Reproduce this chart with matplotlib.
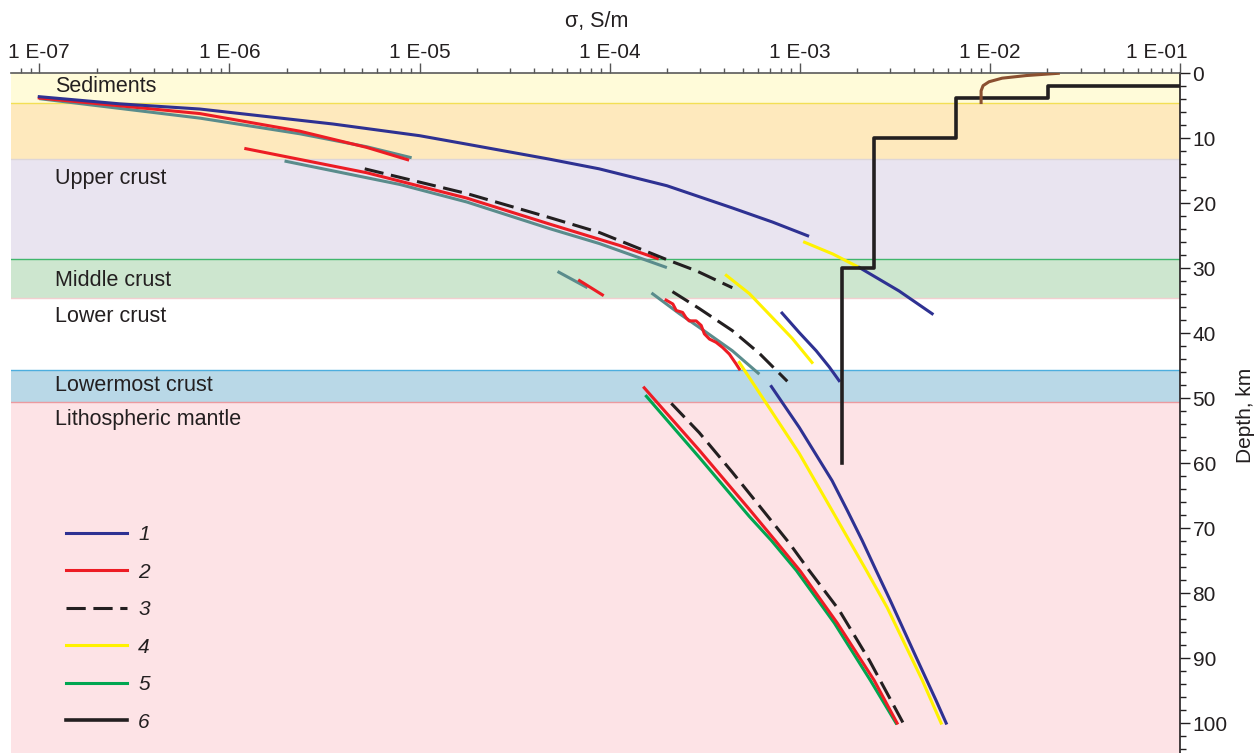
import matplotlib.pyplot as plt
import matplotlib.transforms as mtransforms
import numpy as np
from matplotlib.lines import Line2D
from matplotlib.ticker import FixedLocator, LogLocator, MultipleLocator, NullFormatter

plt.rcParams["font.family"] = ["Liberation Sans", "DejaVu Sans"]
TXT = "#231f20"
FS = 15

# layers, depth in km
layer_top = [0.0, 4.5, 13.2, 28.6, 34.6, 45.6, 50.6]
layer_bottom = [4.5, 13.2, 28.6, 34.6, 45.6, 50.6, 110.0]
layer_fill = ["#fffbd9", "#fee9bd", "#e9e4f0", "#cde6cf", "#ffffff", "#b9d8e7", "#fde3e6"]
layer_edge = [None, "#f3df55", "#ddd6d8", "#40b66c", "#f2cfd0", "#4daede", "#ec9a9f"]

label_names = ["Sediments", "Upper crust", "Middle crust", "Lower crust",
               "Lowermost crust", "Lithospheric mantle"]
label_depth = [2.1, 16.2, 31.9, 37.4, 48.0, 53.3]

# model 1
m1a_sigma = [1.0e-7, 2.65e-7, 7.0e-7, 3.5e-6, 1.0e-5, 1.77e-5, 4.8e-5, 8.8e-5, 2.0e-4,
             4.4e-4, 7.2e-4, 1.1e-3]
m1a_depth = [3.6, 4.7, 5.5, 7.8, 9.6, 10.9, 13.2, 14.7, 17.3, 20.7, 22.9, 25.0]
m1b_sigma = [2.06e-3, 3.33e-3, 4.97e-3]
m1b_depth = [29.9, 33.5, 37.0]
m1c_sigma = [8.07e-4, 9.94e-4, 1.22e-3, 1.43e-3, 1.61e-3]
m1c_depth = [36.9, 39.9, 42.7, 45.2, 47.3]
m1d_sigma = [7.09e-4, 9.94e-4, 1.48e-3, 1.78e-3, 2.13e-3, 2.52e-3, 2.99e-3, 4.1e-3,
             5.21e-3, 5.89e-3]
m1d_depth = [48.2, 54.5, 62.7, 67.3, 71.9, 76.5, 81.1, 89.9, 96.5, 100.0]

# model 2
m2a_sigma = [1.0e-7, 7.0e-7, 2.34e-6, 5.27e-6, 8.66e-6]
m2a_depth = [3.8, 6.2, 8.9, 11.4, 13.3]
m2b_sigma = [1.22e-6, 5.27e-6, 1.77e-5, 4.83e-5, 1.13e-4, 1.78e-4]
m2b_depth = [11.6, 15.3, 19.2, 23.2, 26.5, 28.5]
m2c_sigma = [6.94e-5, 9.16e-5]
m2c_depth = [31.9, 34.1]
m2d_sigma = [1.98e-4, 2.15e-4, 2.24e-4, 2.42e-4, 2.52e-4, 2.62e-4, 2.85e-4, 3.03e-4,
             3.15e-4, 3.35e-4, 3.63e-4, 3.93e-4, 4.26e-4, 4.62e-4, 4.81e-4]
m2d_depth = [34.9, 35.5, 36.5, 36.8, 37.6, 38.1, 38.1, 38.8,
             40.1, 40.9, 41.4, 42.2, 43.2, 44.7, 45.5]
m2e_sigma = [1.52e-4, 2.96e-4, 5.43e-4, 7.43e-4, 1.006e-3, 1.575e-3, 2.46e-3, 3.25e-3]
m2e_depth = [48.4, 58.0, 67.1, 71.9, 76.6, 84.6, 93.4, 100.0]

# model 3
m3a_sigma = [5.15e-6, 1.77e-5, 4.83e-5, 8.83e-5, 2.01e-4, 2.86e-4, 4.42e-4]
m3a_depth = [14.7, 18.5, 22.2, 24.5, 28.7, 30.4, 33.0]
m3b_sigma = [2.14e-4, 2.96e-4, 4.42e-4, 6.13e-4, 8.6e-4]
m3b_depth = [33.6, 36.2, 39.6, 43.1, 47.4]
m3c_sigma = [2.11e-4, 2.96e-4, 4.42e-4, 6.67e-4, 8.81e-4, 1.12e-3, 1.61e-3, 2.32e-3, 3.50e-3]
m3c_depth = [50.8, 55.3, 61.4, 67.9, 72.3, 76.5, 82.6, 90.3, 100.0]

# model 4
m4a_sigma = [1.06e-3, 1.49e-3, 2.06e-3]
m4a_depth = [26.0, 27.8, 29.9]
m4b_sigma = [4.11e-4, 5.43e-4, 7.18e-4, 9.13e-4, 1.16e-3]
m4b_depth = [31.1, 33.9, 37.6, 40.8, 44.5]
m4c_sigma = [4.81e-4, 6.67e-4, 9.94e-4, 1.48e-3, 1.82e-3, 2.24e-3, 2.88e-3, 4.41e-3, 5.54e-3]
m4c_depth = [44.5, 50.8, 58.5, 67.3, 71.9, 76.5, 82.2, 93.4, 100.0]

# model 5
m5_sigma = [1.56e-4, 2.96e-4, 5.43e-4, 7.09e-4, 9.59e-4, 1.52e-3, 2.35e-3, 3.21e-3]
m5_depth = [49.7, 59.1, 68.2, 71.9, 76.5, 84.6, 93.4, 100.0]

# unlabelled grey-teal curves
ta_sigma = [1.0e-7, 7.0e-7, 2.34e-6, 5.27e-6, 9.09e-6]
ta_depth = [3.9, 6.9, 9.3, 11.3, 13.0]
tb_sigma = [1.95e-6, 7.86e-6, 1.77e-5, 4.83e-5, 8.83e-5, 2.0e-4]
tb_depth = [13.5, 17.1, 19.8, 23.9, 26.2, 29.9]
tc_sigma = [5.32e-5, 7.64e-5]
tc_depth = [30.5, 33.0]
td_sigma = [1.66e-4, 2.33e-4, 2.96e-4, 4.42e-4, 6.13e-4]
td_depth = [33.8, 37.0, 39.1, 42.7, 46.3]

# model 6: layered (step) model
m6_sigma = [0.12, 0.0202, 0.0202, 0.00667, 0.00667, 0.00246, 0.00246, 0.00166, 0.00166]
m6_depth = [1.9, 1.9, 3.8, 3.8, 9.9, 9.9, 30.0, 30.0, 60.0]

# near-surface brown curve
br_sigma = [8.99e-3, 8.99e-3, 9.21e-3, 9.9e-3, 1.16e-2, 1.55e-2, 2.29e-2]
br_depth = [4.5, 2.7, 1.9, 1.3, 0.75, 0.35, 0.0]

legend_labels = ["1", "2", "3", "4", "5", "6"]

BLUE, RED, YEL, GRN, BLK, TEAL, BRN = ("#2e3192", "#ed1c24", "#fff200", "#00a651",
                                       "#231f20", "#5a8c8c", "#8b5030")
LW = 2.2
DASH = (6.3, 2.5)

fig = plt.figure(figsize=(12.55, 7.53), dpi=100)
ax = fig.add_axes([11 / 1255, 0, 1169 / 1255, 679.7 / 753])

for top, bot, fc, ec in zip(layer_top, layer_bottom, layer_fill, layer_edge):
    ax.axhspan(top, bot, color=fc, lw=0, zorder=0)
    if ec is not None:
        ax.axhline(top, color=ec, lw=1.0, zorder=0.5)

for name, d in zip(label_names, label_depth):
    ax.text(0.0376, d, name, transform=ax.get_yaxis_transform(), fontsize=15.5,
            color=TXT, va="center", ha="left")

for s, d in [(ta_sigma, ta_depth), (tb_sigma, tb_depth), (tc_sigma, tc_depth), (td_sigma, td_depth)]:
    ax.plot(s, d, color=TEAL, lw=LW, zorder=2, solid_capstyle="butt", solid_joinstyle="round")

h5, = ax.plot(m5_sigma, m5_depth, color=GRN, lw=LW, zorder=2.1, solid_joinstyle="round")
h2 = None
for s, d in [(m2a_sigma, m2a_depth), (m2b_sigma, m2b_depth), (m2c_sigma, m2c_depth),
             (m2d_sigma, m2d_depth), (m2e_sigma, m2e_depth)]:
    ln, = ax.plot(s, d, color=RED, lw=LW, zorder=2.2, solid_joinstyle="round")
    h2 = h2 or ln
h3 = None
for s, d in [(m3a_sigma, m3a_depth), (m3b_sigma, m3b_depth), (m3c_sigma, m3c_depth)]:
    ln, = ax.plot(s, d, color=BLK, lw=LW, ls=(0, DASH), zorder=2.3)
    h3 = h3 or ln
h4 = None
for s, d in [(m4a_sigma, m4a_depth), (m4b_sigma, m4b_depth), (m4c_sigma, m4c_depth)]:
    ln, = ax.plot(s, d, color=YEL, lw=LW, zorder=2.4, solid_joinstyle="round")
    h4 = h4 or ln
h1 = None
for s, d in [(m1a_sigma, m1a_depth), (m1b_sigma, m1b_depth), (m1c_sigma, m1c_depth),
             (m1d_sigma, m1d_depth)]:
    ln, = ax.plot(s, d, color=BLUE, lw=LW, zorder=2.5, solid_joinstyle="round")
    h1 = h1 or ln
h6, = ax.plot(m6_sigma, m6_depth, color=BLK, lw=2.6, zorder=3)
ax.plot(br_sigma, br_depth, color=BRN, lw=LW, zorder=3.1, solid_joinstyle="round")

ax.set_xscale("log")
ax.set_xlim(7.1e-8, 0.1)
ax.set_ylim(104.6, 0)

# top axis
ax.xaxis.set_ticks_position("top")
ax.xaxis.set_label_position("top")
exps = np.arange(-7, 0)
ax.xaxis.set_major_locator(FixedLocator(10.0 ** exps))
ax.set_xticklabels([f"1 E-{-e:02d}" for e in exps])
ax.xaxis.set_minor_locator(LogLocator(base=10, subs=np.arange(2, 10), numticks=20))
ax.xaxis.set_minor_formatter(NullFormatter())
ax.tick_params(axis="x", which="major", length=7, width=1, color="#555555",
               labelsize=FS, labelcolor=TXT, pad=1)
ax.tick_params(axis="x", which="minor", length=3.6, width=1, color="#555555")
last = ax.get_xticklabels()[-1]
last.set_horizontalalignment("right")
last.set_transform(last.get_transform()
                   + mtransforms.ScaledTranslation(8 / 100, 0, fig.dpi_scale_trans))

# right axis
ax.yaxis.tick_right()
ax.yaxis.set_label_position("right")
ax.yaxis.set_major_locator(MultipleLocator(10))
ax.yaxis.set_minor_locator(MultipleLocator(2))
ax.tick_params(axis="y", which="major", length=7, width=1, color=TXT,
               labelsize=FS, labelcolor=TXT, pad=2)
ax.tick_params(axis="y", which="minor", length=4, width=1, color=TXT)

for side in ("left", "bottom"):
    ax.spines[side].set_visible(False)
ax.spines["top"].set_color("#5a5a5a")
ax.spines["top"].set_linewidth(1.2)
ax.spines["right"].set_color(TXT)
ax.spines["right"].set_linewidth(1.2)

ax.set_xlabel("σ, S/m", fontsize=15.5, color=TXT)
ax.xaxis.set_label_coords(0.501, 1.076)
ax.xaxis.label.set_va("center")
ax.set_ylabel("Depth, km", fontsize=FS, color=TXT, rotation=90)
ax.yaxis.set_label_coords(1.056, 0.496)
ax.yaxis.label.set_va("center")
ax.yaxis.label.set_ha("center")

handles = [Line2D([], [], color=h.get_color(), lw=h.get_linewidth(), ls=h.get_linestyle())
           for h in (h1, h2, h3, h4, h5, h6)]
handles[2].set_dashes(DASH)
leg = ax.legend(handles, legend_labels, loc="upper left", bbox_to_anchor=(66 / 1255, 1 - 525 / 753),
                bbox_transform=fig.transFigure, frameon=False, borderpad=0, borderaxespad=0,
                handlelength=2.93, handletextpad=0.53, labelspacing=0.89,
                prop={"size": FS, "style": "italic"})
for t in leg.get_texts():
    t.set_color(TXT)

fig.savefig("out.png", dpi=100)
